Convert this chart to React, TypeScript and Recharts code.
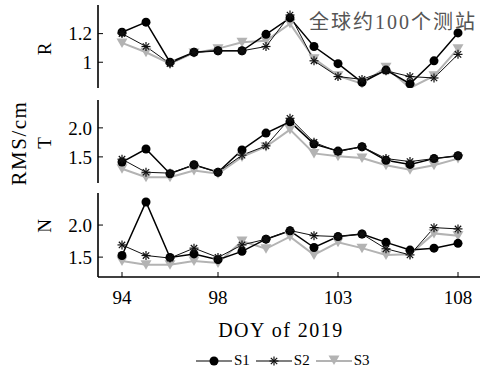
import React from "react";
import { LineChart, Line, XAxis, YAxis } from "recharts";

const days = [94, 95, 96, 97, 98, 99, 100, 101, 102, 103, 104, 105, 106, 107, 108];
const xTicks = [94, 98, 103, 108];

// R 分量
const rS1 = [1.21, 1.28, 1.0, 1.07, 1.08, 1.08, 1.195, 1.31, 1.11, 0.99, 0.86, 0.945, 0.85, 1.01, 1.205];
const rS2 = [1.2, 1.11, 0.99, 1.07, 1.08, 1.08, 1.11, 1.33, 1.01, 0.9, 0.88, 0.94, 0.9, 0.89, 1.055];
const rS3 = [1.135, 1.07, 0.99, 1.065, 1.095, 1.14, 1.15, 1.27, 1.025, 0.905, 0.85, 0.965, 0.82, 0.905, 1.095];

// T 分量
const tS1 = [1.41, 1.635, 1.21, 1.365, 1.235, 1.62, 1.91, 2.105, 1.72, 1.6, 1.675, 1.44, 1.37, 1.47, 1.52];
const tS2 = [1.46, 1.235, 1.22, 1.36, 1.235, 1.53, 1.69, 2.165, 1.75, 1.59, 1.675, 1.47, 1.42, 1.47, 1.52];
const tS3 = [1.295, 1.15, 1.15, 1.265, 1.21, 1.5, 1.675, 1.97, 1.56, 1.51, 1.48, 1.355, 1.28, 1.355, 1.47];

// N 分量
const nS1 = [1.525, 2.36, 1.495, 1.55, 1.46, 1.59, 1.78, 1.91, 1.65, 1.82, 1.86, 1.73, 1.61, 1.64, 1.715];
const nS2 = [1.69, 1.525, 1.485, 1.64, 1.495, 1.69, 1.78, 1.915, 1.835, 1.82, 1.86, 1.63, 1.535, 1.96, 1.94];
const nS3 = [1.44, 1.38, 1.38, 1.44, 1.41, 1.75, 1.63, 1.82, 1.535, 1.73, 1.64, 1.535, 1.545, 1.87, 1.835];

const serif = "'Liberation Serif', 'DejaVu Serif', serif";
const gray = "#b3b3b3";

function build(s1: number[], s2: number[], s3: number[]) {
  return days.map((d, i) => ({ day: d, s1: s1[i], s2: s2[i], s3: s3[i] }));
}

const Circle = (p: any) => <circle key={`c${p.index}`} cx={p.cx} cy={p.cy} r={4.5} fill="#000" />;

const Star = (p: any) => {
  const r = 4.5;
  const arms = [0, 45, 90, 135].map((a) => {
    const rad = (a * Math.PI) / 180;
    const dx = Math.cos(rad) * r;
    const dy = Math.sin(rad) * r;
    return <line key={a} x1={p.cx - dx} y1={p.cy - dy} x2={p.cx + dx} y2={p.cy + dy} stroke="#111" strokeWidth={1.2} />;
  });
  return <g key={`s${p.index}`}>{arms}</g>;
};

const Tri = (p: any) => (
  <path
    key={`t${p.index}`}
    d={`M${p.cx - 5.5},${p.cy - 4.5}L${p.cx + 5.5},${p.cy - 4.5}L${p.cx},${p.cy + 5}Z`}
    fill={gray}
  />
);

interface PanelProps {
  top: number;
  height: number;
  data: any[];
  domain: [number, number];
  ticks: number[];
  fmt: (v: number) => string;
  showX: boolean;
}

const tickStyle = { fill: "#000", fontSize: 19, fontFamily: serif };

function Panel({ top, height, data, domain, ticks, fmt, showX }: PanelProps) {
  return (
    <div style={{ position: "absolute", left: 0, top }}>
      <LineChart width={500} height={height} data={data} margin={{ top: 5, right: 18, left: 58, bottom: showX ? 0 : 5 }}>
        <XAxis
          dataKey="day"
          type="number"
          domain={[93, 109]}
          ticks={xTicks}
          allowDataOverflow
          height={showX ? 40 : 0}
          tickSize={-5}
          tickMargin={19}
          tick={showX ? tickStyle : false}
          axisLine={{ stroke: "#000", strokeWidth: 1.6 }}
          tickLine={{ stroke: "#000" }}
        />
        <XAxis
          xAxisId="top"
          orientation="top"
          dataKey="day"
          type="number"
          domain={[93, 109]}
          ticks={xTicks}
          allowDataOverflow
          height={0}
          tickSize={-5}
          tick={false}
          axisLine={{ stroke: "#000", strokeWidth: 1.6 }}
          tickLine={{ stroke: "#000" }}
        />
        <YAxis
          type="number"
          domain={domain}
          ticks={ticks}
          allowDataOverflow
          width={40}
          tickSize={-5}
          tickMargin={11}
          tickFormatter={fmt}
          tick={tickStyle}
          axisLine={{ stroke: "#000", strokeWidth: 1.6 }}
          tickLine={{ stroke: "#000" }}
        />
        <YAxis
          yAxisId="r"
          orientation="right"
          type="number"
          domain={domain}
          ticks={ticks}
          allowDataOverflow
          width={0}
          tickSize={-5}
          tick={false}
          axisLine={{ stroke: "#000", strokeWidth: 1.6 }}
          tickLine={{ stroke: "#000" }}
        />
        <Line dataKey="s3" stroke={gray} strokeWidth={2} dot={Tri} isAnimationActive={false} />
        <Line dataKey="s1" stroke="#000" strokeWidth={1.5} dot={Circle} isAnimationActive={false} />
        <Line dataKey="s2" stroke="#111" strokeWidth={1} dot={Star} isAnimationActive={false} />
      </LineChart>
    </div>
  );
}

const rotLabel = (text: string, x: number, y: number, size: number, spacing = 0) => (
  <div
    style={{
      position: "absolute",
      left: x,
      top: y,
      transform: "translate(-50%, -50%) rotate(-90deg)",
      fontFamily: serif,
      fontSize: size,
      letterSpacing: spacing,
      whiteSpace: "nowrap",
      lineHeight: 1,
    }}
  >
    {text}
  </div>
);

const LegendItem = ({ label, kind }: { label: string; kind: string }) => (
  <span style={{ display: "inline-flex", alignItems: "center", marginRight: 6 }}>
    <svg width={36} height={12}>
      <line x1={0} y1={6} x2={36} y2={6} stroke={kind === "s3" ? gray : "#000"} strokeWidth={kind === "s3" ? 2 : 1.2} />
      {kind === "s1" && <Circle cx={18} cy={6} index={0} />}
      {kind === "s2" && <Star cx={18} cy={6} index={0} />}
      {kind === "s3" && <Tri cx={18} cy={5} index={0} />}
    </svg>
    <span style={{ marginLeft: 2 }}>{label}</span>
  </span>
);

export default function App() {
  return (
    <div style={{ position: "absolute", left: 0, top: 0, width: 480, height: 370, overflow: "hidden", background: "#fff" }}>
      <Panel top={0} height={93} data={build(rS1, rS2, rS3)} domain={[0.82, 1.4]} ticks={[1, 1.2]} fmt={(v) => String(v)} showX={false} />
      <Panel top={95} height={93} data={build(tS1, tS2, tS3)} domain={[1.05, 2.48]} ticks={[1.5, 2.0]} fmt={(v) => v.toFixed(1)} showX={false} />
      <Panel top={188} height={129} data={build(nS1, nS2, nS3)} domain={[1.19, 2.5]} ticks={[1.5, 2.0]} fmt={(v) => v.toFixed(1)} showX={true} />

      <div
        style={{
          position: "absolute",
          left: 309,
          top: 12,
          fontFamily: "'Liberation Serif', 'Noto Sans CJK SC', serif",
          fontSize: 20,
          letterSpacing: 2,
          color: "#555",
          whiteSpace: "nowrap",
          lineHeight: 1,
        }}
      >
        全球约100个测站
      </div>

      {rotLabel("RMS/cm", 19, 143, 21, 1.5)}
      {rotLabel("R", 44, 49, 19)}
      {rotLabel("T", 44, 143, 19)}
      {rotLabel("N", 44, 226, 19)}

      <div
        style={{
          position: "absolute",
          left: 0,
          width: 562,
          top: 320,
          textAlign: "center",
          fontFamily: serif,
          fontSize: 20,
          letterSpacing: 1.5,
          lineHeight: 1,
        }}
      >
        DOY of 2019
      </div>

      <div
        style={{
          position: "absolute",
          left: 196,
          top: 353,
          fontFamily: serif,
          fontSize: 15,
          display: "flex",
          lineHeight: 1,
        }}
      >
        <LegendItem label="S1" kind="s1" />
        <LegendItem label="S2" kind="s2" />
        <LegendItem label="S3" kind="s3" />
      </div>
    </div>
  );
}
